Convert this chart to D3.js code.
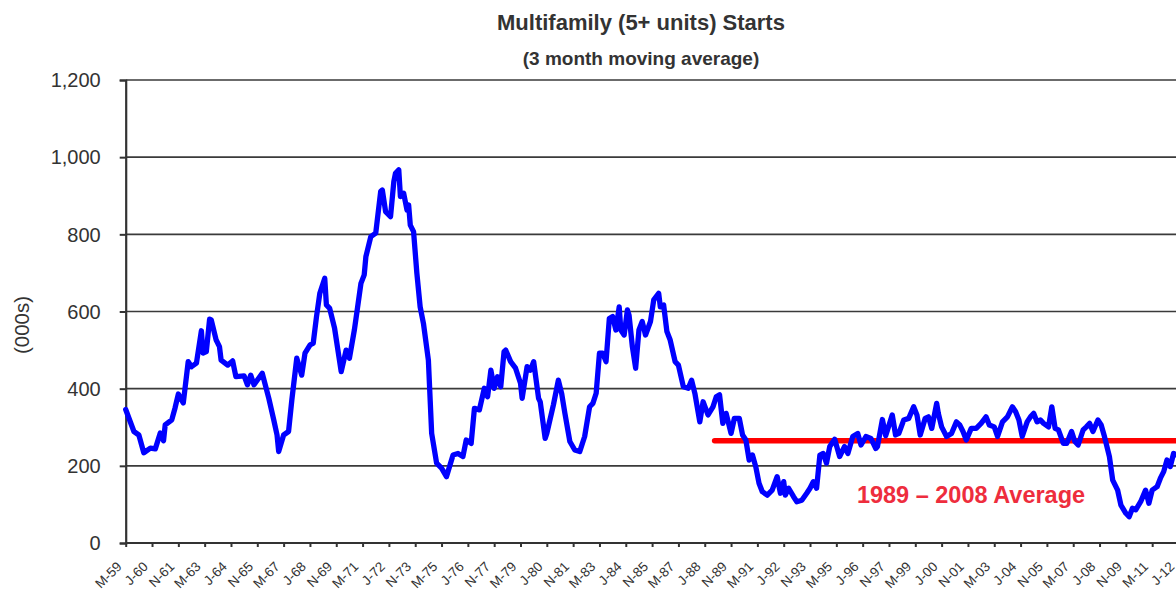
<!DOCTYPE html>
<html>
<head>
<meta charset="utf-8">
<script src="https://cdn.jsdelivr.net/npm/d3@7"></script>
<style>
  html, body { margin: 0; padding: 0; background: #fff; overflow: hidden; }
  svg { display: block; }
  text { font-family: "Liberation Sans", Arial, sans-serif; }
</style>
</head>
<body>
<svg id="chart" width="1176" height="594"></svg>
<script>
// ---------- DATA ----------
const tickLabels = ["M-59","J-60","N-61","M-63","J-64","N-65","M-67","J-68","N-69","M-71",
  "J-72","N-73","M-75","J-76","N-77","M-79","J-80","N-81","M-83","J-84","N-85","M-87",
  "J-88","N-89","M-91","J-92","N-93","M-95","J-96","N-97","M-99","J-00","N-01","M-03",
  "J-04","N-05","M-07","J-08","N-09","M-11","J-12"];

const yTicks = [0, 200, 400, 600, 800, 1000, 1200];

const dates = [
 "1959-03","1959-08","1959-11","1960-02","1960-06","1960-09","1960-12","1961-02","1961-03","1961-07",
 "1961-09","1961-11","1962-02","1962-05","1962-07","1962-10","1963-01","1963-02","1963-04","1963-06",
 "1963-07","1963-10","1963-12","1964-01","1964-05","1964-08","1964-10","1965-03","1965-05","1965-07",
 "1965-09","1966-02","1966-06","1966-09","1966-11","1966-12","1967-03","1967-06","1967-08","1967-11",
 "1968-02","1968-04","1968-07","1968-09","1968-11","1969-01","1969-04","1969-05","1969-07","1969-10",
 "1970-02","1970-05","1970-07","1970-10","1970-12","1971-02","1971-04","1971-05","1971-08","1971-11",
 "1972-02","1972-03","1972-05","1972-08","1972-10","1972-11","1973-01","1973-02","1973-04","1973-06",
 "1973-07","1973-08","1973-10","1973-12","1974-02","1974-04","1974-07","1974-09","1974-12","1975-03",
 "1975-06","1975-10","1976-01","1976-04","1976-06","1976-09","1976-11","1977-02","1977-05","1977-07",
 "1977-09","1977-11","1978-01","1978-03","1978-05","1978-06","1978-09","1978-12","1979-03","1979-04",
 "1979-07","1979-09","1979-11","1980-02","1980-03","1980-06","1980-07","1980-11","1981-02","1981-04",
 "1981-06","1981-09","1981-12","1982-03","1982-06","1982-09","1982-11","1983-01","1983-03","1983-05",
 "1983-07","1983-09","1983-11","1984-01","1984-03","1984-04","1984-06","1984-08","1984-09","1984-11",
 "1985-01","1985-03","1985-05","1985-07","1985-10","1985-12","1986-03","1986-04","1986-06","1986-08",
 "1986-10","1987-01","1987-03","1987-06","1987-09","1987-11","1988-01","1988-04","1988-06","1988-09",
 "1988-12","1989-02","1989-04","1989-06","1989-08","1989-11","1990-01","1990-04","1990-06","1990-08",
 "1990-10","1990-12","1991-02","1991-04","1991-06","1991-09","1991-12","1992-03","1992-05","1992-07",
 "1992-08","1992-10","1993-01","1993-03","1993-06","1993-09","1993-11","1994-01","1994-03","1994-05",
 "1994-07","1994-09","1994-11","1995-02","1995-05","1995-08","1995-10","1996-01","1996-04","1996-06",
 "1996-09","1996-12","1997-03","1997-04","1997-07","1997-09","1998-01","1998-03","1998-05","1998-08",
 "1998-11","1999-02","1999-04","1999-06","1999-09","1999-11","2000-01","2000-04","2000-05","2000-07",
 "2000-10","2001-01","2001-04","2001-06","2001-08","2001-10","2002-01","2002-04","2002-07","2002-10",
 "2002-12","2003-03","2003-05","2003-08","2003-11","2004-02","2004-04","2004-06","2004-08","2004-11",
 "2005-01","2005-03","2005-05","2005-07","2005-09","2005-12","2006-02","2006-04","2006-06","2006-09",
 "2006-11","2007-02","2007-04","2007-06","2007-09","2007-11","2008-01","2008-03","2008-06","2008-08",
 "2008-10","2009-01","2009-03","2009-06","2009-08","2009-11","2010-01","2010-03","2010-05","2010-08",
 "2010-11","2011-01","2011-03","2011-06","2011-08","2011-10","2011-12","2012-02","2012-04","2012-06"
];

const starts = [
 346,289,280,234,246,244,285,265,306,319,
 350,386,363,470,457,466,550,492,496,580,
 578,526,509,474,461,472,431,433,410,435,
 410,440,375,319,280,237,280,289,371,479,
 435,492,513,518,587,647,686,617,608,556,
 444,500,479,552,612,673,695,742,794,803,
 911,915,859,846,937,958,967,898,906,863,
 876,824,807,699,612,569,474,284,207,194,
 172,228,232,224,267,258,349,345,401,379,
 448,401,431,405,496,500,470,453,414,375,
 457,448,470,375,366,271,284,358,422,388,
 336,263,241,237,276,353,362,388,492,492,
 470,582,587,552,612,552,539,604,590,509,
 453,552,574,539,574,630,647,612,617,548,
 526,470,461,405,401,422,388,314,366,332,
 353,379,384,310,336,284,323,323,280,267,
 215,228,198,155,133,124,137,172,129,159,
 124,142,120,107,111,129,142,159,142,228,
 232,207,250,269,224,250,232,276,284,254,
 276,271,245,250,320,278,332,280,284,319,
 323,353,332,280,323,327,297,362,336,301,
 276,284,314,306,289,267,297,297,310,327,
 306,301,276,314,327,353,340,319,276,314,
 327,336,314,319,310,301,353,297,293,258,
 258,289,263,254,293,301,310,289,319,306,
 276,224,163,137,98,77,68,90,86,107,
 137,103,137,146,168,185,215,198,232,228
];

const avgStart = "1989-01";
const avgValue = 265;
const avgLabel = "1989 \u2013 2008 Average";

const title = "Multifamily (5+ units) Starts";
const subtitle = "(3 month moving average)";
const yLabel = "(000s)";

// ---------- LAYOUT ----------
(function () {
const svg = d3.select("#chart");
const mLeft = 125.7, mRight = 1178.5, mTop = 80, mBottom = 543;
const plotRight = 1190;

const monthIndex = s => { const [yy, mm] = s.split("-").map(Number); return (yy - 1959) * 12 + (mm - 3); };

const x = d3.scaleLinear().domain([0, 640]).range([mLeft, mRight]);
const y = d3.scaleLinear().domain([0, 1200]).range([mBottom, mTop]);

const data = dates.map((d, i) => ({ m: monthIndex(d), v: starts[i] }));

// gridlines
svg.append("g")
  .selectAll("line")
  .data(yTicks)
  .join("line")
  .attr("x1", mLeft).attr("x2", plotRight)
  .attr("y1", d => y(d)).attr("y2", d => y(d))
  .attr("stroke", "#3a3a3a").attr("stroke-width", 1.7);

// y axis
const yAxis = svg.append("g")
  .attr("transform", `translate(${mLeft},0)`)
  .call(d3.axisLeft(y).tickValues(yTicks).tickFormat(d3.format(",")).tickSize(6).tickPadding(19));
yAxis.select(".domain").attr("stroke", "#333").attr("stroke-width", 2.2);
yAxis.selectAll(".tick line").attr("stroke", "#333").attr("stroke-width", 2);
yAxis.selectAll(".tick text")
  .attr("font-size", 20).attr("fill", "#333").attr("dy", "0.34em")
  .style("font-family", '"Liberation Sans", Arial, sans-serif');

// x axis
const xAxis = svg.append("g")
  .attr("transform", `translate(0,${mBottom})`)
  .call(d3.axisBottom(x).tickValues(d3.range(0, 641, 16)).tickFormat((d, i) => tickLabels[i]).tickSize(4).tickSizeOuter(0));
xAxis.select(".domain").attr("stroke", "#333").attr("stroke-width", 2.2).attr("d", `M${mLeft},0H${plotRight}`);
xAxis.selectAll(".tick line").attr("stroke", "#333").attr("stroke-width", 2);
xAxis.selectAll(".tick text")
  .attr("font-size", 13.5).attr("fill", "#333")
  .attr("text-anchor", "end")
  .attr("x", 0).attr("y", 0).attr("dy", "0.35em")
  .attr("transform", "translate(-7,21) rotate(-45)")
  .style("font-family", '"Liberation Sans", Arial, sans-serif');

// average line
svg.append("line")
  .attr("x1", x(monthIndex(avgStart))).attr("x2", plotRight)
  .attr("y1", y(avgValue)).attr("y2", y(avgValue))
  .attr("stroke", "#ff0000").attr("stroke-width", 5.5).attr("stroke-linecap", "round");

// series line
svg.append("path")
  .datum(data)
  .attr("fill", "none")
  .attr("stroke", "#0000ff")
  .attr("stroke-width", 5.3)
  .attr("stroke-linejoin", "round")
  .attr("stroke-linecap", "round")
  .attr("d", d3.line().x(d => x(d.m)).y(d => y(d.v)));

// average label
svg.append("text")
  .attr("x", 971).attr("y", 503)
  .attr("text-anchor", "middle")
  .attr("font-size", 23.5).attr("font-weight", "bold")
  .attr("fill", "#ee2d3d")
  .text(avgLabel);

// titles
svg.append("text")
  .attr("x", 641).attr("y", 30)
  .attr("text-anchor", "middle")
  .attr("font-size", 22).attr("font-weight", "bold").attr("fill", "#333")
  .text(title);
svg.append("text")
  .attr("x", 641).attr("y", 65)
  .attr("text-anchor", "middle")
  .attr("font-size", 19).attr("font-weight", "bold").attr("fill", "#333")
  .text(subtitle);

// y label
svg.append("text")
  .attr("transform", "translate(29,325) rotate(-90)")
  .attr("text-anchor", "middle")
  .attr("font-size", 20.5).attr("fill", "#333")
  .text(yLabel);
})();
</script>
</body>
</html>
